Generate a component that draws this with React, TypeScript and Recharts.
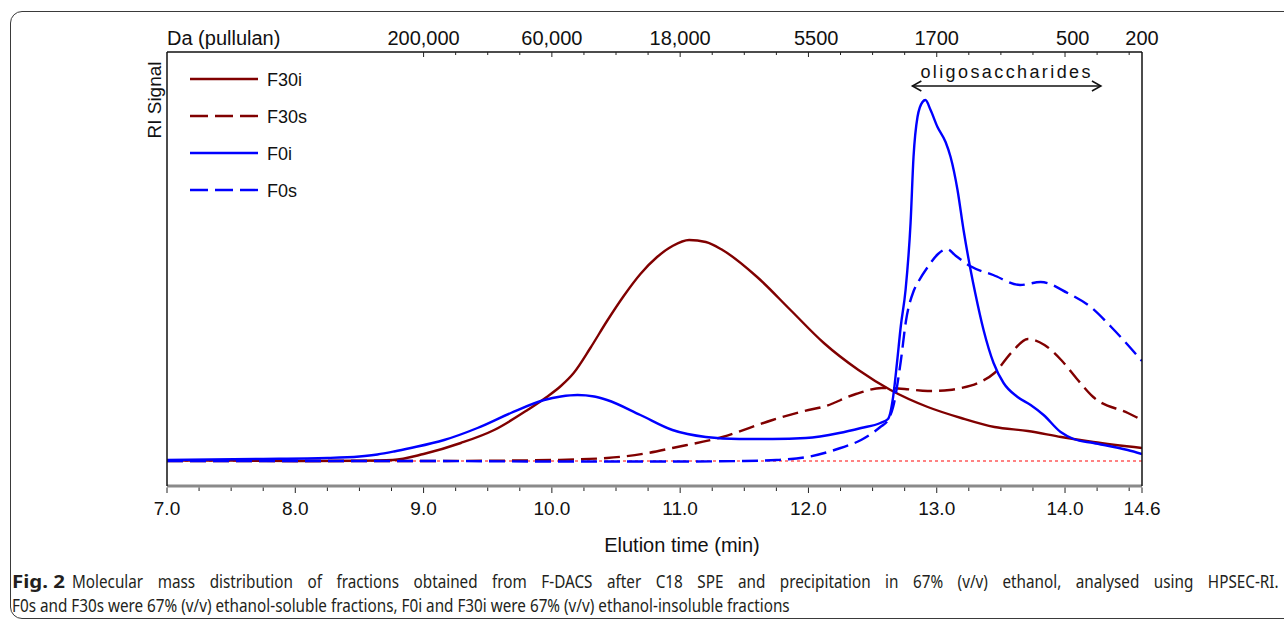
import React from 'react';
import { LineChart, Line, XAxis, YAxis, ReferenceLine } from 'recharts';

const FONT = '"Liberation Sans", Arial, sans-serif';
const CAP_FONT_FAMILY = '"Noto Sans"';
const CAP_SIZE = 18.5;
const DARK_RED = '#800000';
const BLUE = '#0000ff';

// Elution time (min), RI signal (arbitrary units, 0 = baseline)
const f30iPoints: [number, number][] = [
  [7.0, 0.5], [7.5, 0.5], [8.0, 0], [8.5, 0.3], [8.76, 1], [9.0, 7], [9.29, 18], [9.55, 31],
  [9.81, 51], [9.96, 64], [10.07, 75], [10.17, 88], [10.3, 113], [10.43, 140], [10.56, 165],
  [10.69, 187], [10.82, 204], [10.94, 215], [11.07, 221], [11.2, 219], [11.33, 211], [11.6, 184],
  [11.86, 151], [12.12, 118], [12.39, 91], [12.64, 71], [12.93, 54], [13.19, 43], [13.45, 34],
  [13.71, 30], [13.97, 24], [14.22, 19], [14.6, 13],
];
const f30sPoints: [number, number][] = [
  [7.0, 0], [8.0, 0], [9.0, 0], [9.5, 0.3], [10.0, 1], [10.43, 3], [10.75, 8], [10.94, 13],
  [11.33, 24], [11.72, 41], [12.0, 51], [12.11, 54], [12.37, 67], [12.57, 73], [12.75, 72],
  [12.93, 70], [13.1, 71], [13.19, 73], [13.32, 78], [13.45, 88], [13.58, 108], [13.71, 122],
  [13.84, 116], [13.97, 101], [14.1, 81], [14.22, 64], [14.49, 48], [14.6, 41],
];
const f0iPoints: [number, number][] = [
  [7.0, 1], [7.72, 2], [8.25, 3], [8.5, 4.5], [8.64, 6.5], [8.77, 9.5], [8.9, 13], [9.16, 21],
  [9.42, 33], [9.68, 48], [9.94, 61], [10.07, 64.5], [10.2, 66], [10.33, 64.5], [10.43, 61],
  [10.69, 46], [10.94, 31], [11.2, 24], [11.46, 22], [11.72, 22], [11.98, 23], [12.24, 28],
  [12.41, 33], [12.56, 38], [12.62, 42], [12.66, 64], [12.69, 98], [12.72, 135], [12.757, 171],
  [12.796, 238], [12.819, 304], [12.85, 344], [12.889, 359], [12.912, 361], [12.952, 351],
  [13.006, 334], [13.069, 319], [13.108, 304], [13.162, 271], [13.209, 231], [13.264, 191],
  [13.3, 168], [13.365, 131], [13.443, 98], [13.521, 78], [13.63, 64], [13.732, 56], [13.833, 46],
  [13.966, 29], [14.067, 22], [14.223, 18], [14.488, 11], [14.6, 7],
];
const f0sPoints: [number, number][] = [
  [7.0, 0], [8.0, 0], [9.0, 0], [10.0, -0.5], [11.0, -0.5], [11.5, 0], [11.75, 1], [11.99, 4],
  [12.25, 13], [12.41, 21], [12.51, 29], [12.56, 34], [12.62, 41], [12.66, 54], [12.72, 100],
  [12.76, 140], [12.82, 170], [12.86, 180], [12.93, 194], [13.01, 207], [13.08, 212], [13.15, 205],
  [13.26, 195], [13.44, 186], [13.65, 176], [13.81, 179], [14.02, 168], [14.2, 154], [14.36, 134],
  [14.6, 100],
];

const seriesNames = ['F30i', 'F30s', 'F0i', 'F0s'];
const seriesColors = [DARK_RED, DARK_RED, BLUE, BLUE];
const seriesDashed = [false, true, false, true];
const seriesPoints = [f30iPoints, f30sPoints, f0iPoints, f0sPoints];

const bottomMajorTimes = [7.0, 8.0, 9.0, 10.0, 11.0, 12.0, 13.0, 14.0, 14.6];
const bottomMajorLabels = ['7.0', '8.0', '9.0', '10.0', '11.0', '12.0', '13.0', '14.0', '14.6'];
const topLabelTimes = [9.0, 10.0, 11.0, 12.06, 13.0, 14.06, 14.6];
const topLabels = ['200,000', '60,000', '18,000', '5500', '1700', '500', '200'];
const topAxisTitle = 'Da (pullulan)';
const xTitle = 'Elution time (min)';
const yTitle = 'RI Signal';
const oligoLabel = 'oligosaccharides';
const oligoRange = [12.81, 14.28];
const oligoLevel = 375;

const captionBold = 'Fig. 2';
const captionLine1 =
  'Molecular mass distribution of fractions obtained from F-DACS after C18 SPE and precipitation in 67% (v/v) ethanol, analysed using HPSEC-RI.';
const captionLine2 =
  'F0s and F30s were 67% (v/v) ethanol-soluble fractions, F0i and F30i were 67% (v/v) ethanol-insoluble fractions';

const X_DOMAIN: [number, number] = [7, 14.6];
const Y_DOMAIN: [number, number] = [-25, 409];

const minorTimes: number[] = [];
for (let i = 0; i <= 30; i++) minorTimes.push(7 + i * 0.25);
const bottomTicks = Array.from(new Set([...minorTimes, 14.6])).sort((a, b) => a - b);
const topMinor = minorTimes.filter((t) => t >= 9 - 1e-9);
const topTicks = Array.from(new Set([...topMinor, ...topLabelTimes])).sort((a, b) => a - b);

const near = (a: number, b: number) => Math.abs(a - b) < 1e-6;

const measure = (text: string, font: string) => {
  try {
    const ctx = document.createElement('canvas').getContext('2d');
    if (ctx) {
      ctx.font = font;
      return ctx.measureText(text).width;
    }
  } catch (e) {
    /* ignore */
  }
  return text.length * CAP_SIZE * 0.52;
};

const BottomTick = (props: any) => {
  const { x, y, payload } = props;
  const v = payload.value as number;
  const idx = bottomMajorTimes.findIndex((m) => near(m, v));
  const major = idx >= 0;
  return (
    <g>
      <line x1={x} x2={x} y1={y + 1.5} y2={y + (major ? 7 : 5)} stroke="#222" strokeWidth={1} />
      {major && (
        <text x={x} y={y + 29} textAnchor="middle" fontSize={19} fontFamily={FONT} fill="#111">
          {bottomMajorLabels[idx]}
        </text>
      )}
    </g>
  );
};

const TopTick = (props: any) => {
  const { x, y, payload } = props;
  const v = payload.value as number;
  const idx = topLabelTimes.findIndex((m) => near(m, v));
  const onGrid = minorTimes.some((m) => near(m, v));
  const major = onGrid && Math.abs(v - Math.round(v)) < 1e-6;
  return (
    <g>
      {onGrid && (
        <line x1={x} x2={x} y1={y} y2={y + (major ? 5 : 3)} stroke="#222" strokeWidth={1} />
      )}
      {idx >= 0 && (
        <text x={x} y={y - 7} textAnchor="middle" fontSize={20} fontFamily={FONT} fill="#111">
          {topLabels[idx]}
        </text>
      )}
    </g>
  );
};

const OligoShape = (p: any) => {
  const { x1, y1, x2 } = p;
  const mid = (x1 + x2) / 2;
  return (
    <g>
      <line x1={x1} y1={y1} x2={x2} y2={y1} stroke="#111" strokeWidth={1.5} />
      <polyline points={`${x1 + 9},${y1 - 5} ${x1},${y1} ${x1 + 9},${y1 + 5}`} fill="none" stroke="#111" strokeWidth={1.5} />
      <polyline points={`${x2 - 9},${y1 - 5} ${x2},${y1} ${x2 - 9},${y1 + 5}`} fill="none" stroke="#111" strokeWidth={1.5} />
      <text x={mid} y={y1 - 8} textAnchor="middle" fontSize={18} letterSpacing={2.4} fontFamily={FONT} fill="#111">
        {oligoLabel}
      </text>
    </g>
  );
};

export default function App() {
  const capFont = `${CAP_SIZE}px ${CAP_FONT_FAMILY}`;
  const w2 = measure(captionLine2, capFont);
  const r = 778 / w2;
  const w1 = measure(captionLine1, capFont);
  const nSpaces = captionLine1.split(' ').length - 1;
  const ws = Math.max(0, (1207 / r - w1) / nSpaces);
  const wb = measure(captionBold, `bold ${capFont}`);
  const rb = 53 / wb;

  return (
    <div style={{ position: 'absolute', left: 0, top: 0, width: 1284, height: 622, background: '#fff', overflow: 'hidden' }}>
      <div
        style={{
          position: 'absolute', left: 10, top: 11, width: 1320, height: 608,
          border: '1px solid #3a3a3a', borderRadius: 12, boxSizing: 'border-box',
        }}
      />
      <div style={{ position: 'absolute', left: 0, top: 0 }}>
        <LineChart width={1284} height={560} margin={{ top: 0, right: 141, bottom: 0, left: 147 }}>
          <XAxis
            xAxisId="b" type="number" dataKey="t" domain={X_DOMAIN} ticks={bottomTicks} interval={0}
            allowDataOverflow tick={BottomTick} tickLine={false} tickSize={0} tickMargin={0}
            axisLine={{ stroke: '#8a8a8a', strokeWidth: 3 }} height={74}
          />
          <XAxis
            xAxisId="t" orientation="top" type="number" dataKey="t" domain={X_DOMAIN} ticks={topTicks}
            interval={0} allowDataOverflow tick={TopTick} tickLine={false} tickSize={0} tickMargin={0}
            axisLine={{ stroke: '#111', strokeWidth: 1.5 }} height={52}
          />
          <YAxis
            yAxisId="l" type="number" domain={Y_DOMAIN} allowDataOverflow width={20} tick={false}
            tickLine={false} axisLine={{ stroke: '#111', strokeWidth: 1.5 }}
          />
          <YAxis
            yAxisId="r" orientation="right" type="number" domain={Y_DOMAIN} allowDataOverflow width={1}
            tick={false} tickLine={false} axisLine={{ stroke: '#111', strokeWidth: 1.5 }}
          />
          <ReferenceLine xAxisId="b" yAxisId="l" y={0} stroke="#ff5a5a" strokeWidth={1.5} strokeDasharray="3 3" />
          {seriesNames.map((name, i) => (
            <Line
              key={name}
              name={name}
              xAxisId="b"
              yAxisId="l"
              data={seriesPoints[i].map(([t, v]) => ({ t, v }))}
              dataKey="v"
              type="monotone"
              stroke={seriesColors[i]}
              strokeWidth={2.4}
              strokeDasharray={seriesDashed[i] ? '16 7' : undefined}
              dot={false}
              activeDot={false}
              isAnimationActive={false}
            />
          ))}
          <ReferenceLine
            xAxisId="b" yAxisId="l"
            segment={[{ x: oligoRange[0], y: oligoLevel }, { x: oligoRange[1], y: oligoLevel }]}
            shape={OligoShape}
          />
        </LineChart>
      </div>
      <svg
        width={1284} height={622}
        style={{ position: 'absolute', left: 0, top: 0, pointerEvents: 'none' }}
      >
        <text x={167} y={45} fontSize={20} fontFamily={FONT} fill="#111">{topAxisTitle}</text>
        <text x={161} y={100} fontSize={19} fontFamily={FONT} fill="#111" textAnchor="middle" transform="rotate(-90 161 100)">
          {yTitle}
        </text>
        <text x={682} y={552} fontSize={20} fontFamily={FONT} fill="#111" textAnchor="middle">{xTitle}</text>
        {seriesNames.map((name, i) => {
          const y = 79 + i * 37;
          return (
            <g key={name}>
              <line x1={190} x2={258} y1={y} y2={y} stroke={seriesColors[i]} strokeWidth={2.4}
                strokeDasharray={seriesDashed[i] ? '18 7' : undefined} />
              <text x={267} y={y + 6.5} fontSize={18} fontFamily={FONT} fill="#111">{name}</text>
            </g>
          );
        })}
        <g transform={`translate(12,588) scale(${rb},1)`}>
          <text x={0} y={0} fontSize={CAP_SIZE} fontWeight="bold" fontFamily={CAP_FONT_FAMILY} fill="#231f20">
            {captionBold}
          </text>
        </g>
        <g transform={`translate(72,588) scale(${r},1)`}>
          <text x={0} y={0} fontSize={CAP_SIZE} fontFamily={CAP_FONT_FAMILY} fill="#231f20" wordSpacing={ws}>
            {captionLine1}
          </text>
        </g>
        <g transform={`translate(12,612) scale(${r},1)`}>
          <text x={0} y={0} fontSize={CAP_SIZE} fontFamily={CAP_FONT_FAMILY} fill="#231f20">
            {captionLine2}
          </text>
        </g>
      </svg>
    </div>
  );
}
